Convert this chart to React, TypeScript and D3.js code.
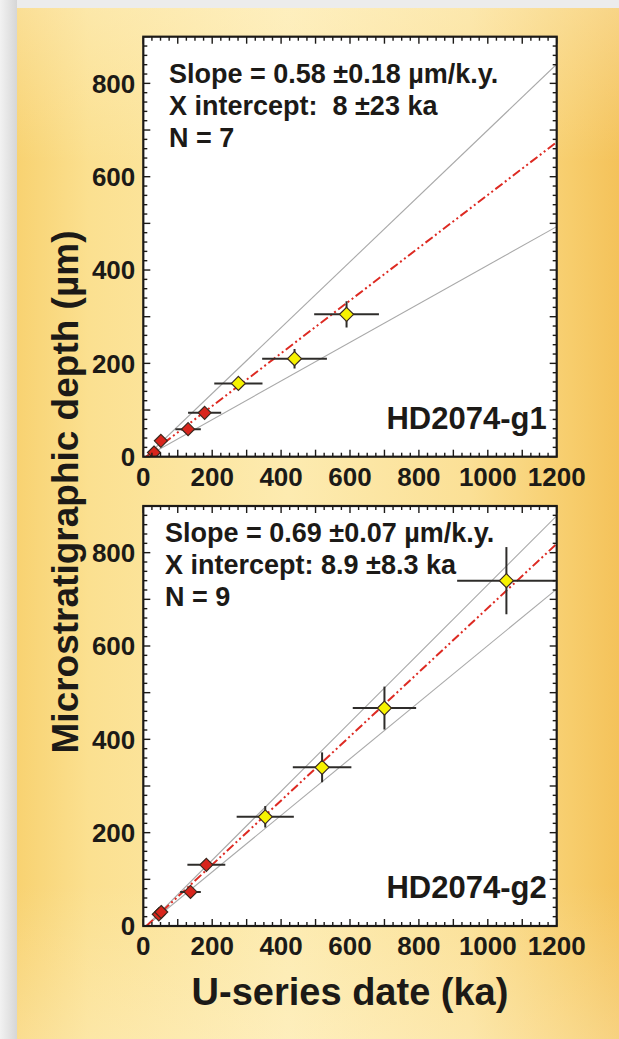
import React from "react";
import * as d3 from "d3";

// ---- Data ----
const g1Age = [31, 51, 130, 178, 276, 439, 590];
const g1Depth = [9, 34, 59, 94, 157, 210, 305];
const g1AgeErr = [0, 0, 37, 48, 70, 94, 94];
const g1DepthErr = [0, 0, 0, 0, 10, 21, 28];
const g1Kind = ["red", "red", "red", "red", "yellow", "yellow", "yellow"];

const g2Age = [45, 52, 137, 183, 354, 519, 700, 1054];
const g2Depth = [25, 30, 73, 131, 234, 340, 467, 740];
const g2AgeErr = [0, 0, 30, 55, 83, 85, 92, 143];
const g2DepthErr = [0, 0, 0, 0, 23, 32, 46, 72];
const g2Kind = ["red", "red", "red", "red", "yellow", "yellow", "yellow", "yellow"];

// fit lines: [x0, y0, x1, y1]
const g1Fit = [8, 0, 1200, 674];
const g1Upper = [8, 0, 1200, 841];
const g1Lower = [8, 0, 1200, 493];
const g2Fit = [8.9, 0, 1200, 819];
const g2Upper = [8.9, 0, 1200, 879];
const g2Lower = [8.9, 0, 1200, 722];

const g1Text = ["Slope = 0.58 \u00B10.18 \u00B5m/k.y.", "X intercept:  8 \u00B123 ka", "N = 7"];
const g2Text = ["Slope = 0.69 \u00B10.07 \u00B5m/k.y.", "X intercept: 8.9 \u00B18.3 ka", "N = 9"];

const xTickLabels = [0, 200, 400, 600, 800, 1000, 1200];
const yTickLabels = [0, 200, 400, 600, 800];

const xDomain = [0, 1200];
const yDomain = [0, 900];

const FONT = "'Liberation Sans', Arial, Helvetica, sans-serif";
const INK = "#1c1a17";

interface PanelProps {
  top: number;
  age: number[];
  depth: number[];
  ageErr: number[];
  depthErr: number[];
  kind: string[];
  fit: number[];
  upper: number[];
  lower: number[];
  text: string[];
  name: string;
  textX: number;
  textY: number;
}

function Panel(p: PanelProps) {
  const left = 143.3;
  const width = 413.4;
  const height = 420;
  const x = d3.scaleLinear().domain(xDomain).range([left, left + width]);
  const y = d3.scaleLinear().domain(yDomain).range([p.top + height, p.top]);
  const clipId = "clip" + p.name;

  const xMajor = d3.range(0, 1201, 100);
  const xMinor = d3.range(0, 1201, 25).filter((v) => v % 100 !== 0);
  const yMajor = d3.range(0, 901, 100);
  const yMinor = d3.range(0, 901, 20).filter((v) => v % 100 !== 0);
  const maj = 7;
  const min = 4;

  const line = (c: number[], stroke: string, w: number, dash?: string) => (
    <line
      x1={x(c[0])}
      y1={y(c[1])}
      x2={x(c[2])}
      y2={y(c[3])}
      stroke={stroke}
      strokeWidth={w}
      strokeDasharray={dash}
    />
  );

  const diamond = (cx: number, cy: number, r: number) =>
    `M${cx},${cy - r}L${cx + r},${cy}L${cx},${cy + r}L${cx - r},${cy}Z`;

  return (
    <g>
      <defs>
        <clipPath id={clipId}>
          <rect x={left} y={p.top} width={width} height={height} />
        </clipPath>
      </defs>
      <rect x={left} y={p.top} width={width} height={height} fill="#ffffff" />
      <g clipPath={`url(#${clipId})`}>
        {line(p.upper, "#a9a9a9", 1.1)}
        {line(p.lower, "#a9a9a9", 1.1)}
        {line(p.fit, "#dd2a22", 2, "9,3,2,3,2,3")}
        {p.age.map((a, i) => (
          <g key={"e" + i} stroke="#2e2c2a" strokeWidth={2}>
            {p.ageErr[i] > 0 && (
              <line x1={x(a - p.ageErr[i])} x2={x(a + p.ageErr[i])} y1={y(p.depth[i])} y2={y(p.depth[i])} />
            )}
            {p.depthErr[i] > 0 && (
              <line x1={x(a)} x2={x(a)} y1={y(p.depth[i] - p.depthErr[i])} y2={y(p.depth[i] + p.depthErr[i])} />
            )}
          </g>
        ))}
        {p.age.map((a, i) => (
          <path
            key={"d" + i}
            d={diamond(x(a), y(p.depth[i]), p.kind[i] === "red" ? 6.5 : 7)}
            fill={p.kind[i] === "red" ? "#d8251c" : "#f7f200"}
            stroke="#3a2a20"
            strokeWidth={1.2}
          />
        ))}
      </g>
      {/* ticks */}
      <g stroke={INK} strokeWidth={1.4}>
        {xMajor.map((v) => (
          <g key={"xm" + v}>
            <line x1={x(v)} x2={x(v)} y1={p.top + height} y2={p.top + height - maj} />
            <line x1={x(v)} x2={x(v)} y1={p.top} y2={p.top + maj} />
          </g>
        ))}
        {xMinor.map((v) => (
          <g key={"xn" + v}>
            <line x1={x(v)} x2={x(v)} y1={p.top + height} y2={p.top + height - min} />
            <line x1={x(v)} x2={x(v)} y1={p.top} y2={p.top + min} />
          </g>
        ))}
        {yMajor.map((v) => (
          <g key={"ym" + v}>
            <line x1={left} x2={left + maj} y1={y(v)} y2={y(v)} />
            <line x1={left + width} x2={left + width - maj} y1={y(v)} y2={y(v)} />
          </g>
        ))}
        {yMinor.map((v) => (
          <g key={"yn" + v}>
            <line x1={left} x2={left + min} y1={y(v)} y2={y(v)} />
            <line x1={left + width} x2={left + width - min} y1={y(v)} y2={y(v)} />
          </g>
        ))}
      </g>
      <rect x={left} y={p.top} width={width} height={height} fill="none" stroke={INK} strokeWidth={2.2} />
      {/* tick labels */}
      <g fontFamily={FONT} fontWeight="bold" fontSize={26} fill={INK}>
        {xTickLabels.map((v) => (
          <text key={"xl" + v} x={x(v)} y={p.top + height + 29} textAnchor="middle">
            {v}
          </text>
        ))}
        {yTickLabels.map((v) => (
          <text key={"yl" + v} x={left - 8} y={y(v)} dy="0.36em" textAnchor="end">
            {v}
          </text>
        ))}
      </g>
      <g fontFamily={FONT} fontWeight="bold" fontSize={27} fill={INK}>
        {p.text.map((t, i) => (
          <text key={"t" + i} x={p.textX} y={p.textY + i * 32} style={{ whiteSpace: "pre" }}>
            {t}
          </text>
        ))}
      </g>
      <text
        x={left + width - 10}
        y={p.top + height - 28}
        textAnchor="end"
        fontFamily={FONT}
        fontWeight="bold"
        fontSize={31}
        fill={INK}
      >
        {p.name}
      </text>
    </g>
  );
}

export default function App() {
  return (
    <svg
      width={619}
      height={1039}
      style={{ position: "absolute", left: 0, top: 0, display: "block" }}
    >
      <defs>
        <linearGradient id="bgH" gradientUnits="userSpaceOnUse" x1={17} x2={619} y1={0} y2={0}>
          <stop offset="0" stopColor="#f8d271" />
          <stop offset="0.12" stopColor="#fbe090" />
          <stop offset="0.45" stopColor="#fdebb0" />
          <stop offset="0.75" stopColor="#fbe096" />
          <stop offset="0.92" stopColor="#f7cd6c" />
          <stop offset="1" stopColor="#f4c25a" />
        </linearGradient>
        <linearGradient id="bgV" gradientUnits="userSpaceOnUse" x1={0} x2={0} y1={8} y2={1039}>
          <stop offset="0" stopColor="#fff6d8" stopOpacity="0.35" />
          <stop offset="0.15" stopColor="#fff6d8" stopOpacity="0" />
          <stop offset="0.85" stopColor="#fff6d8" stopOpacity="0" />
          <stop offset="1" stopColor="#fff6d8" stopOpacity="0.3" />
        </linearGradient>
        <linearGradient id="shadow" x1="0" x2="1" y1="0" y2="0">
          <stop offset="0" stopColor="#f2f2f2" />
          <stop offset="1" stopColor="#d6d6d6" />
        </linearGradient>
      </defs>
      <rect x={0} y={0} width={619} height={1039} fill="#ececec" />
      <rect x={0} y={0} width={17} height={1039} fill="url(#shadow)" />
      <rect x={17} y={8} width={602} height={1031} fill="url(#bgH)" />
      <rect x={17} y={8} width={602} height={1031} fill="url(#bgV)" />
      <Panel
        top={36.7}
        age={g1Age}
        depth={g1Depth}
        ageErr={g1AgeErr}
        depthErr={g1DepthErr}
        kind={g1Kind}
        fit={g1Fit}
        upper={g1Upper}
        lower={g1Lower}
        text={g1Text}
        name="HD2074-g1"
        textX={169}
        textY={83}
      />
      <Panel
        top={506}
        age={g2Age}
        depth={g2Depth}
        ageErr={g2AgeErr}
        depthErr={g2DepthErr}
        kind={g2Kind}
        fit={g2Fit}
        upper={g2Upper}
        lower={g2Lower}
        text={g2Text}
        name="HD2074-g2"
        textX={165}
        textY={542}
      />
      <text
        x={350}
        y={1005}
        textAnchor="middle"
        fontFamily={FONT}
        fontWeight="bold"
        fontSize={38}
        fill={INK}
      >
        U-series date (ka)
      </text>
      <text
        transform="translate(78,492) rotate(-90)"
        textAnchor="middle"
        fontFamily={FONT}
        fontWeight="bold"
        fontSize={37}
        fill={INK}
      >
        Microstratigraphic depth (µm)
      </text>
    </svg>
  );
}
